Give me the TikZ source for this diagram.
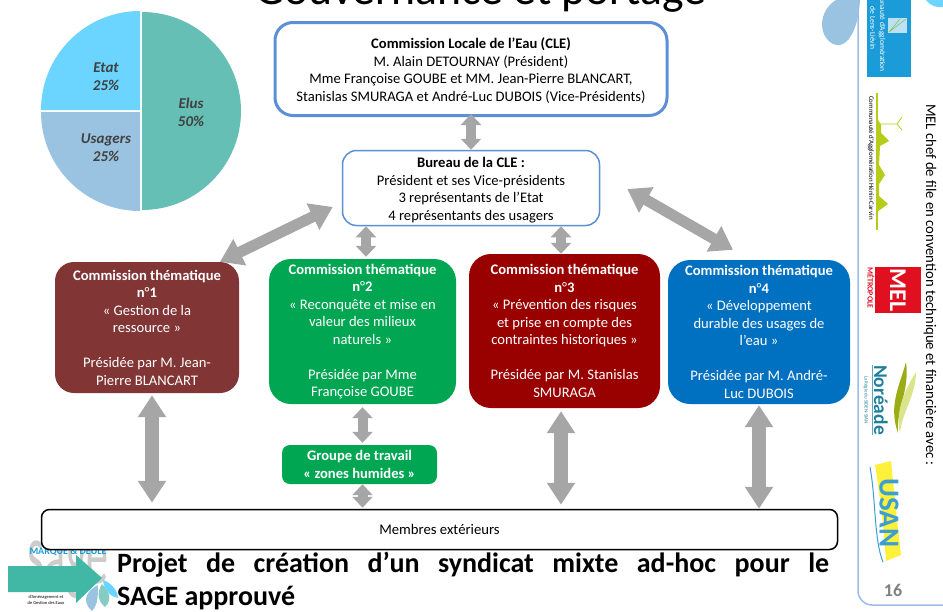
\documentclass[tikz,border=0pt]{standalone}
\usepackage{fontspec}
\setmainfont{Carlito}
\usetikzlibrary{arrows.meta}
\definecolor{linegray}{HTML}{A6A6A6}
\definecolor{boxblue}{HTML}{5B8FD6}
\definecolor{stripblue}{HTML}{9DBDE8}
\definecolor{elus}{HTML}{66BFB4}
\definecolor{etat}{HTML}{6BD4FF}
\definecolor{usagers}{HTML}{9AC3E1}
\definecolor{cmone}{HTML}{823535}
\definecolor{cmtwo}{HTML}{00A651}
\definecolor{cmthree}{HTML}{990000}
\definecolor{cmfour}{HTML}{0070C0}
\definecolor{lensblue}{HTML}{1B9CD8}
\definecolor{heninlime}{HTML}{B5CC18}
\definecolor{melred}{HTML}{E01020}
\definecolor{noreade}{HTML}{1F7F9B}
\definecolor{usanyellow}{HTML}{FFF03C}
\definecolor{usanblue}{HTML}{3B9FD4}
\definecolor{pagearrow}{HTML}{41B8A5}
\newcommand{\topgap}{\rule{0pt}{14pt}}
\begin{document}
\begin{tikzpicture}[x=1pt,y=-1pt]
        \tikzstyle{cle} = [draw=boxblue,fill=white,align=center,inner sep=0pt,font=\fontsize{14.6}{17.5}\selectfont]
        \tikzstyle{commission} = [rounded corners=22pt,text=white,align=center,inner sep=0pt,font=\fontsize{14.6}{17.5}\selectfont]
        \tikzstyle{pielabel} = [text=black!75,align=center,inner sep=0pt,font=\fontsize{15}{18}\selectfont\bfseries\itshape]
        \tikzstyle{smalllink} = [<->,>={Triangle[width=20pt,length=11pt]},line width=10pt,draw=linegray]
        \tikzstyle{biglink} = [<->,>={Triangle[width=27pt,length=22pt]},line width=14pt,draw=linegray]
        \tikzstyle{slantlink} = [<->,>={Triangle[width=28pt,length=22pt]},line width=11pt,draw=linegray]
        \tikzstyle{sidetext} = [rotate=-90,inner sep=0pt]

        \useasboundingbox (0,0) rectangle (943,611);

        \node[anchor=base,inner sep=0pt,font=\fontsize{45.7}{50}\selectfont] (title) at (481,4) {Gouvernance et portage};

        % pie
        \fill[elus] (142,111) -- (142,12) arc[start angle=-90,end angle=90,radius=99] -- cycle;
        \fill[etat] (140,110) -- (41,110) arc[start angle=180,end angle=270,radius=99] -- cycle;
        \fill[usagers] (140,112) -- (140,211) arc[start angle=90,end angle=180,radius=99] -- cycle;
        \node[pielabel] (pieelus) at (191,112) {Elus\\50\%};
        \node[pielabel] (pieetat) at (106,77) {Etat\\25\%};
        \node[pielabel] (pieusagers) at (106,148) {Usagers\\25\%};

        % right strip
        \fill[usagers] (836,0) .. controls (822,8) and (816,30) .. (830,42) .. controls (842,52) and (858,38) .. (860,0) -- cycle;
        \fill[etat] (926,0) .. controls (930,6) and (938,8) .. (943,7) -- (943,0) -- cycle;
        \draw[stripblue,line width=1.5pt,rounded corners=14pt] (858,0) -- (858,605) -- (943,605);
        \node[text=black!50,inner sep=0pt,font=\fontsize{18}{20}\selectfont\bfseries] (page) at (893,590) {16};
        \node[sidetext,font=\fontsize{14.7}{16}\selectfont] (mel) at (930,285) {MEL chef de file en convention technique et financière avec :};

        % logos
        \fill[lensblue] (867,0) rectangle (911,77);
        \node[sidetext,anchor=east,text=white,font=\fontsize{7.5}{8}\selectfont] (lensa) at (882,72) {Communauté d’Agglomération};
        \node[sidetext,anchor=east,text=white,font=\fontsize{7.5}{8}\selectfont] (lensb) at (873,50) {de Lens-Liévin};
        \fill[white!70!lensblue] (888,18) rectangle (907,33);
        \draw[heninlime!70!lensblue,line width=.5pt] (889,32) -- (906,19) (889,32) -- (900,19);
        \draw[heninlime,line width=1.2pt] (877,93) -- (877,230);
        \fill[heninlime] (877,118) -- (881,125) -- (881,133) -- (889,141) -- (880,146) -- (879,165) -- (885,175) -- (879,184) -- (879,196) -- (888,204) -- (877,212) -- cycle;
        \draw[heninlime,line width=.8pt] (877,124) -- (897,124) -- (902,117) (897,124) -- (902,130);
        \node[sidetext,font=\fontsize{6.9}{7}\selectfont] (henin) at (871,158) {Communauté d’Agglomération Hénin-Carvin};
        \node[rotate=-90,fill=melred,text=white,inner sep=0pt,minimum width=46,minimum height=46,font=\fontsize{24}{24}\selectfont\bfseries] (mellogo) at (898,290) {MEL};
        \node[sidetext,text=melred,font=\fontsize{8}{8}\selectfont\bfseries] (metropole) at (871,288) {MÉTROPOLE};
        \node[sidetext,text=noreade,font=\fontsize{19.5}{24}\selectfont\bfseries] (nore) at (881,400) {Noréade};
        \draw[noreade!70,line width=.6pt] (872,365) -- (872,435);
        \node[sidetext,text=noreade,font=\fontsize{5}{6}\selectfont] (regie) at (866,400) {La Régie du SIDEN-SIAN};
        \fill[heninlime!85!black] (906,362) .. controls (900,385) and (888,405) .. (898,433) .. controls (896,410) and (910,390) .. (906,362) -- cycle;
        \fill[heninlime!50] (916,372) .. controls (905,390) and (895,410) .. (900,433) .. controls (902,412) and (916,395) .. (916,372) -- cycle;
        \fill[usanyellow] (875,465) -- (891,461) .. controls (895,500) and (898,530) .. (901,555) -- (886,561) .. controls (884,530) and (880,495) .. (875,465) -- cycle;
        \draw[usanblue,line width=1pt] (870,467) .. controls (876,500) and (874,540) .. (883,562);
        \node[sidetext,text=usanblue,font=\fontsize{29}{30}\selectfont\bfseries] (usan) at (889,513) {USAN};

        % sage logo
        \node[text=black!20,inner sep=0pt,yscale=2,font=\fontsize{44}{44}\selectfont] (sagetext) at (68,570) {sage};
        \node[text=lensblue,inner sep=0pt,font=\fontsize{10}{10}\selectfont\bfseries] (sagename) at (68,552) {MARQUE \& DEULE};
        \node[inner sep=0pt,align=center,font=\fontsize{4.5}{6}\selectfont] (sagesub) at (46,600) {d’Aménagement et\\de Gestion des Eaux};
        \fill[usagers] (92,611) .. controls (80,600) and (88,590) .. (98,585) .. controls (98,595) and (98,605) .. (92,611) -- cycle;
        \fill[elus!80] (105,607) .. controls (96,600) and (98,590) .. (102,584) .. controls (110,592) and (112,600) .. (105,607) -- cycle;
        \fill[etat] (118,598) .. controls (108,596) and (104,588) .. (103,580) .. controls (110,582) and (118,590) .. (118,598) -- cycle;
        \fill[pagearrow] (8,566) -- (76,566) -- (76,555) -- (102,578) -- (76,603) -- (76,592) -- (8,592) -- cycle;
        \node[anchor=north west,inner sep=0pt,text width=712pt,align=justify,font=\fontsize{28}{33}\selectfont\bfseries] (projet) at (117,552) {Projet de création d’un syndicat mixte ad-hoc pour le\linebreak SAGE approuvé};

        % boxes
        \node[cle,line width=3pt,rounded corners=18pt,minimum width=392,minimum height=93] (clebox) at (471,69) {\topgap\textbf{Commission Locale de l’Eau (CLE)}\\M. Alain DETOURNAY (Président)\\Mme Françoise GOUBE et MM. Jean-Pierre BLANCART,\\Stanislas SMURAGA et André-Luc DUBOIS (Vice-Présidents)};
        \node[cle,line width=1.5pt,rounded corners=14pt,minimum width=257,minimum height=75] (bureau) at (471,188) {\topgap\textbf{Bureau de la CLE :}\\Président et ses Vice-présidents\\3 représentants de l’Etat\\4 représentants des usagers};
        \node[commission,rounded corners=19pt,fill=cmone,minimum width=184,minimum height=131] (cm1) at (147,327.5) {\textbf{Commission thématique}\\\textbf{n}°\textbf{1}\\« Gestion de la\\ressource »\\[17.5pt]Présidée par M. Jean-\\Pierre BLANCART};
        \node[commission,fill=cmtwo,minimum width=187,minimum height=145] (cm2) at (362.5,331.5) {\textbf{Commission thématique}\\\textbf{n}°\textbf{2}\\« Reconquête et mise en\\valeur des milieux\\naturels »\\[17.5pt]Présidée par Mme\\Françoise GOUBE};
        \node[commission,fill=cmthree,minimum width=191,minimum height=154] (cm3) at (564.5,331) {\textbf{Commission thématique}\\\textbf{n}°\textbf{3}\\« Prévention des risques\\et prise en compte des\\contraintes historiques »\\[17.5pt]Présidée par M. Stanislas\\SMURAGA};
        \node[commission,fill=cmfour,minimum width=182,minimum height=144] (cm4) at (759,332) {\textbf{Commission thématique}\\\textbf{n}°\textbf{4}\\« Développement\\durable des usages de\\l’eau »\\[17.5pt]Présidée par M. André-\\Luc DUBOIS};
        \node[commission,rounded corners=8pt,fill=cmtwo,minimum width=155,minimum height=39] (grp) at (359.5,464.5) {\textbf{Groupe de travail}\\\textbf{« zones humides »}};
        \node[draw=black,fill=white,line width=1.5pt,rounded corners=8pt,inner sep=0pt,minimum width=796,minimum height=40,font=\fontsize{14.7}{16}\selectfont] (mem) at (439.5,529.5) {Membres extérieurs};

        \draw[smalllink,shorten <=-3pt] (clebox.south) -- (bureau.north);
        \draw[smalllink,shorten >=2pt] ([xshift=3.5]cm2.north |- bureau.south) -- ([xshift=3.5]cm2.north);
        \draw[smalllink] ([xshift=-3.5]cm3.north |- bureau.south) -- ([xshift=-3.5]cm3.north);
        \draw[slantlink] ([shift={(-9,19)}]bureau.west) -- ([xshift=73]cm1.north);
        \draw[slantlink] ([shift={(27,1)}]bureau.east) -- ([shift={(-26,-10)}]cm4.north);
        \draw[biglink,shorten <=2pt,shorten >=6pt] ([xshift=5]cm1.south) -- ([xshift=5]cm1.south |- mem.north);
        \draw[smalllink,shorten <=3pt,shorten >=2pt] (cm2.south) -- (cm2.south |- grp.north);
        \draw[smalllink,shorten >=1pt] (cm2.south |- grp.south) -- (cm2.south |- mem.north);
        \draw[biglink,shorten <=3pt,shorten >=4pt] ([xshift=-3.5]cm3.south) -- ([xshift=-3.5]cm3.south |- mem.north);
        \draw[biglink,shorten <=1pt] (cm4.south) -- (cm4.south |- mem.north);

    \end{tikzpicture}
\end{document}
